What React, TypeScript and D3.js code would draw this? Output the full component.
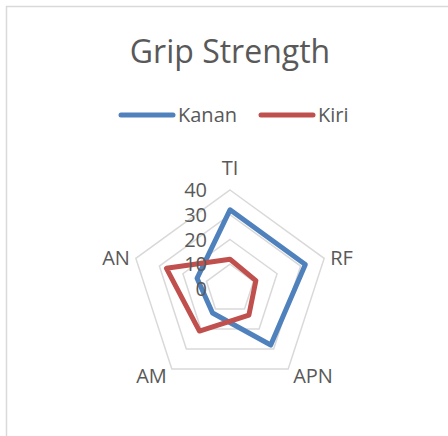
import React from "react";
import * as d3 from "d3";

const categories = ["TI", "RF", "APN", "AM", "AN"];
const kanan = [32, 32, 28, 12, 14];
const kiri = [12, 11, 13, 21, 27];
const ticks = [0, 10, 20, 30, 40];
const seriesNames = ["Kanan", "Kiri"];
const seriesColors = ["#4F81BD", "#C0504D"];

const W = 448;
const H = 436;
const cx = 230;
const cy = 289;
const R = 99;
const font = "'Open Sans', sans-serif";
const textColor = "#595959";

const App = () => {
  const r = d3.scaleLinear().domain([0, 40]).range([0, R]);
  const angle = d3
    .scalePoint<string>()
    .domain(categories)
    .range([0, 2 * Math.PI * (1 - 1 / categories.length)]);

  const pt = (cat: string, v: number): [number, number] => {
    const a = angle(cat) as number;
    return [cx + r(v) * Math.sin(a), cy - r(v) * Math.cos(a)];
  };

  const ring = (v: number) =>
    d3.line()(categories.map((c) => pt(c, v))) + "Z";

  const seriesPath = (vals: number[]) =>
    d3.line()(categories.map((c, i) => pt(c, vals[i]))) + "Z";

  // category labels sit just outside the outer ring vertex
  const labelPos = (cat: string) => {
    const a = angle(cat) as number;
    const [vx, vy] = pt(cat, 40);
    const s = Math.sin(a);
    const c = Math.cos(a);
    if (Math.abs(s) < 0.1) return { x: vx, y: vy - 22, anchor: "middle" };
    const side = s > 0 ? 1 : -1;
    const dx = c < -0.5 ? 5 : 6;
    const dy = c < -0.5 ? 7 : 0;
    return { x: vx + side * dx, y: vy + dy, anchor: side > 0 ? "start" : "end" };
  };

  return (
    <svg
      width={W}
      height={H}
      style={{ position: "absolute", left: 0, top: 0, background: "#fff" }}
    >
      <rect x={6.5} y={6.5} width={W + 20} height={H + 20} fill="#fff" stroke="#d9d9d9" strokeWidth={1.5} />
      <text x={230} y={63} textAnchor="middle" fontFamily={font} fontSize={32} fill={textColor}>
        Grip Strength
      </text>

      {seriesNames.map((name, i) => {
        const x0 = i === 0 ? 121 : 261;
        return (
          <g key={name}>
            <line x1={x0} x2={x0 + 52} y1={115} y2={115} stroke={seriesColors[i]} strokeWidth={5} strokeLinecap="round" />
            <text x={x0 + 57} y={115} dy="0.35em" fontFamily={font} fontSize={20} fill={textColor}>
              {name}
            </text>
          </g>
        );
      })}

      {ticks.slice(1).map((t) => (
        <path key={t} d={ring(t)} fill="none" stroke="#d9d9d9" strokeWidth={1.5} />
      ))}

      {seriesNames.map((name, i) => (
        <path
          key={name}
          d={seriesPath(i === 0 ? kanan : kiri)}
          fill="none"
          stroke={seriesColors[i]}
          strokeWidth={5}
          strokeLinejoin="round"
        />
      ))}

      {ticks.map((t) => (
        <text key={t} x={207} y={cy - r(t)} dy="0.35em" textAnchor="end" fontFamily={font} fontSize={20} fill={textColor}>
          {t}
        </text>
      ))}

      {categories.map((c) => {
        const p = labelPos(c);
        return (
          <text key={c} x={p.x} y={p.y} dy="0.35em" textAnchor={p.anchor} fontFamily={font} fontSize={20} fill={textColor}>
            {c}
          </text>
        );
      })}
    </svg>
  );
};

export default App;
